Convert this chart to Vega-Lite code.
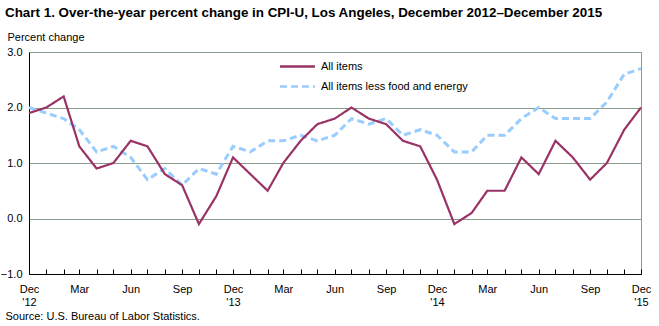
{
  "$schema": "https://vega.github.io/schema/vega-lite/v6.json",
  "width": 612,
  "height": 222,
  "autosize": {"type": "none"},
  "padding": {"left": 29, "top": 52, "right": 18, "bottom": 52},
  "background": "white",
  "config": {
    "font": "Liberation Sans",
    "view": {"stroke": "#8c9c8c", "strokeWidth": 1},
    "axis": {"labelFont": "Liberation Sans", "titleFont": "Liberation Sans", "labelColor": "black", "titleColor": "black"}
  },
  "title": {
    "text": "Chart 1. Over-the-year percent change in CPI-U, Los Angeles, December 2012–December 2015",
    "anchor": "start",
    "frame": "group",
    "dx": -24,
    "offset": 12,
    "fontSize": 13.4,
    "fontWeight": "bold",
    "font": "Liberation Sans",
    "color": "black"
  },
  "data": {
    "values": [
      {"date": "2012-12-01", "All items": 1.9, "All items less food and energy": 2.0},
      {"date": "2013-01-01", "All items": 2.0, "All items less food and energy": 1.9},
      {"date": "2013-02-01", "All items": 2.2, "All items less food and energy": 1.8},
      {"date": "2013-03-01", "All items": 1.3, "All items less food and energy": 1.6},
      {"date": "2013-04-01", "All items": 0.9, "All items less food and energy": 1.2},
      {"date": "2013-05-01", "All items": 1.0, "All items less food and energy": 1.3},
      {"date": "2013-06-01", "All items": 1.4, "All items less food and energy": 1.1},
      {"date": "2013-07-01", "All items": 1.3, "All items less food and energy": 0.7},
      {"date": "2013-08-01", "All items": 0.8, "All items less food and energy": 0.9},
      {"date": "2013-09-01", "All items": 0.6, "All items less food and energy": 0.6},
      {"date": "2013-10-01", "All items": -0.1, "All items less food and energy": 0.9},
      {"date": "2013-11-01", "All items": 0.4, "All items less food and energy": 0.8},
      {"date": "2013-12-01", "All items": 1.1, "All items less food and energy": 1.3},
      {"date": "2014-01-01", "All items": 0.8, "All items less food and energy": 1.2},
      {"date": "2014-02-01", "All items": 0.5, "All items less food and energy": 1.4},
      {"date": "2014-03-01", "All items": 1.0, "All items less food and energy": 1.4},
      {"date": "2014-04-01", "All items": 1.4, "All items less food and energy": 1.5},
      {"date": "2014-05-01", "All items": 1.7, "All items less food and energy": 1.4},
      {"date": "2014-06-01", "All items": 1.8, "All items less food and energy": 1.5},
      {"date": "2014-07-01", "All items": 2.0, "All items less food and energy": 1.8},
      {"date": "2014-08-01", "All items": 1.8, "All items less food and energy": 1.7},
      {"date": "2014-09-01", "All items": 1.7, "All items less food and energy": 1.8},
      {"date": "2014-10-01", "All items": 1.4, "All items less food and energy": 1.5},
      {"date": "2014-11-01", "All items": 1.3, "All items less food and energy": 1.6},
      {"date": "2014-12-01", "All items": 0.7, "All items less food and energy": 1.5},
      {"date": "2015-01-01", "All items": -0.1, "All items less food and energy": 1.2},
      {"date": "2015-02-01", "All items": 0.1, "All items less food and energy": 1.2},
      {"date": "2015-03-01", "All items": 0.5, "All items less food and energy": 1.5},
      {"date": "2015-04-01", "All items": 0.5, "All items less food and energy": 1.5},
      {"date": "2015-05-01", "All items": 1.1, "All items less food and energy": 1.8},
      {"date": "2015-06-01", "All items": 0.8, "All items less food and energy": 2.0},
      {"date": "2015-07-01", "All items": 1.4, "All items less food and energy": 1.8},
      {"date": "2015-08-01", "All items": 1.1, "All items less food and energy": 1.8},
      {"date": "2015-09-01", "All items": 0.7, "All items less food and energy": 1.8},
      {"date": "2015-10-01", "All items": 1.0, "All items less food and energy": 2.1},
      {"date": "2015-11-01", "All items": 1.6, "All items less food and energy": 2.6},
      {"date": "2015-12-01", "All items": 2.0, "All items less food and energy": 2.7}
    ]
  },
  "transform": [
    {"fold": ["All items", "All items less food and energy"], "as": ["series", "value"]}
  ],
  "encoding": {
    "x": {
      "field": "date",
      "type": "temporal",
      "scale": {"type": "utc", "domain": [{"year": 2012, "month": 12, "date": 1, "utc": true}, {"year": 2015, "month": 12, "date": 1, "utc": true}], "nice": false},
      "axis": {
        "title": "Source: U.S. Bureau of Labor Statistics.",
        "titleAnchor": "start",
        "titleAlign": "left",
        "titleBaseline": "alphabetic",
        "titleX": -24,
        "titleY": 45,
        "titleFontSize": 11,
        "titleFontWeight": "normal",
        "tickCount": {"interval": "month", "step": 1},
        "tickSize": -5,
        "tickColor": "black",
        "domainColor": "black",
        "grid": false,
        "labelPadding": 14,
        "labelFontSize": 11,
        "labelLineHeight": 13,
        "labelOverlap": false,
        "labelFlush": false,
        "labelBound": false,
        "labelExpr": "utcmonth(datum.value) % 3 != 2 ? '' : (utcmonth(datum.value) == 11 ? ['Dec', \"'\" + utcFormat(datum.value, '%y')] : utcFormat(datum.value, '%b'))"
      }
    },
    "y": {
      "field": "value",
      "type": "quantitative",
      "scale": {"domain": [-1, 3], "nice": false},
      "axis": {
        "values": [-1, 0, 1, 2, 3],
        "format": ".1f",
        "title": "Percent change",
        "titleAngle": 0,
        "titleAlign": "left",
        "titleBaseline": "alphabetic",
        "titleX": -22,
        "titleY": -12,
        "titleFontSize": 11,
        "titleFontWeight": "normal",
        "ticks": false,
        "labelPadding": 7,
        "labelFontSize": 11,
        "domainColor": "black",
        "gridColor": "#8c9c8c",
        "gridOpacity": 1
      }
    },
    "color": {
      "field": "series",
      "type": "nominal",
      "scale": {"domain": ["All items", "All items less food and energy"], "range": ["#993366", "#99ccff"]},
      "legend": {
        "title": null,
        "orient": "none",
        "legendX": 261,
        "legendY": 7,
        "padding": 0,
        "symbolType": "M-3,0H3",
        "symbolSize": 136,
        "symbolStrokeWidth": 2.5,
        "labelOffset": 16,
        "labelFontSize": 11,
        "labelColor": "black",
        "rowPadding": 7
      }
    },
    "strokeDash": {
      "field": "series",
      "type": "nominal",
      "scale": {"domain": ["All items", "All items less food and energy"], "range": [[1, 0], [7, 4]]},
      "legend": {
        "title": null,
        "orient": "none",
        "legendX": 261,
        "legendY": 7,
        "padding": 0,
        "symbolType": "M-3,0H3",
        "symbolSize": 136,
        "symbolStrokeWidth": 2.5,
        "labelOffset": 16,
        "labelFontSize": 11,
        "labelColor": "black",
        "rowPadding": 7
      }
    }
  },
  "layer": [
    {
      "transform": [{"filter": "datum.series == 'All items less food and energy'"}],
      "mark": {"type": "line", "strokeWidth": 3}
    },
    {
      "transform": [{"filter": "datum.series == 'All items'"}],
      "mark": {"type": "line", "strokeWidth": 2.2}
    }
  ]
}
